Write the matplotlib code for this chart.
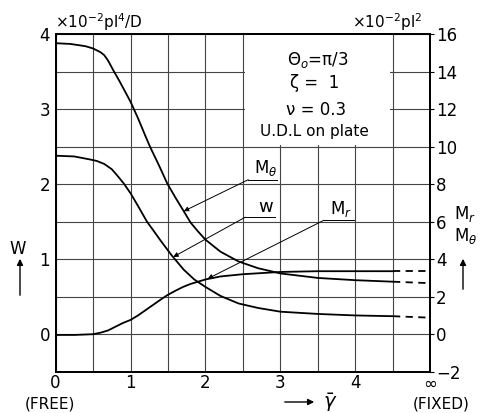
import numpy as np
import matplotlib.pyplot as plt
from matplotlib.patches import Rectangle

gam_w = [0, 0.25, 0.46, 0.55, 0.65, 0.75, 0.82, 0.91, 1.0, 1.1, 1.22, 1.3, 1.4, 1.55, 1.71, 1.85, 2.0,
         2.2, 2.44, 2.7, 3.0, 3.5, 4.0, 4.5]
w_val = [2.38, 2.37, 2.33, 2.31, 2.27, 2.20, 2.12, 2.01, 1.88, 1.71, 1.50, 1.39, 1.25, 1.05, 0.86, 0.73, 0.63,
         0.51, 0.41, 0.35, 0.30, 0.27, 0.25, 0.24]

gam_mt = [0, 0.2, 0.4, 0.5, 0.6, 0.65, 0.7, 0.77, 0.85, 0.92, 1.0, 1.1, 1.2, 1.26, 1.38, 1.49, 1.6, 1.71,
          1.8, 1.9, 2.0, 2.2, 2.44, 2.7, 3.0, 3.5, 4.0, 4.5]
mt_val = [3.88, 3.87, 3.84, 3.81, 3.76, 3.72, 3.65, 3.52, 3.38, 3.25, 3.10, 2.88, 2.64, 2.50, 2.25, 2.01, 1.82, 1.64,
          1.49, 1.37, 1.26, 1.10, 0.97, 0.88, 0.81, 0.75, 0.72, 0.70]

gam_mr = [0, 0.25, 0.5, 0.6, 0.7, 0.8, 0.9, 1.0, 1.1, 1.2, 1.3, 1.4, 1.49, 1.6, 1.7, 1.8, 1.9, 2.0,
          2.2, 2.5, 3.0, 3.5, 4.0, 4.5]
mr_val = [-0.01, -0.01, 0.0, 0.02, 0.05, 0.10, 0.15, 0.19, 0.25, 0.32, 0.39, 0.46, 0.52, 0.58, 0.63, 0.67, 0.70, 0.73,
          0.77, 0.80, 0.83, 0.84, 0.84, 0.84]

# dashed continuation towards infinity (fixed end)
gam_dash = [4.5, 5.0]
w_dash = [0.24, 0.22]
mt_dash = [0.70, 0.68]
mr_dash = [0.84, 0.84]

x_ticks = [0, 1, 2, 3, 4, 5]
x_labels = ["0", "1", "2", "3", "4", "\u221e"]
left_ticks = [0, 1, 2, 3, 4]
right_ticks = list(range(-2, 17, 2))

W, H = 481, 413
fig = plt.figure(figsize=(W / 100, H / 100), dpi=100)
ax = fig.add_axes([55.5 / W, 1 - 371.7 / H, 375 / W, 337.5 / H])

ax.set_xlim(0, 5)
ax.set_ylim(-0.5, 4)
ax.set_xticks(x_ticks, x_labels)
ax.set_xticks(np.arange(0.5, 5, 0.5), minor=True)
ax.set_yticks(left_ticks)
ax.set_yticks(np.arange(-0.5, 4, 0.5), minor=True)
ax.grid(True, which="both", color="#444444", lw=0.8)
ax.tick_params(which="both", length=0, labelsize=12, pad=4)
ax.tick_params(axis="x", pad=2)
for s in ax.spines.values():
    s.set_linewidth(1.3)

# white box behind the parameter text
ax.add_patch(Rectangle((2.53, 2.52), 1.93, 1.47, facecolor="white", edgecolor="none", zorder=1.8))

kw = dict(color="black", lw=1.3, zorder=2)
ax.plot(gam_w, w_val, **kw)
ax.plot(gam_mt, mt_val, **kw)
ax.plot(gam_mr, mr_val, **kw)
for yd in (w_dash, mt_dash, mr_dash):
    ax.plot(gam_dash, yd, color="black", lw=1.3, ls=(0, (4, 3)), zorder=2)

# parameter text
ax.text(3.5, 3.66, "\u0398$_o$=\u03c0/3", ha="center", va="center", fontsize=12, zorder=3)
ax.text(3.45, 3.35, "\u03b6 =  1", ha="center", va="center", fontsize=12, zorder=3)
ax.text(3.47, 2.99, "\u03bd = 0.3", ha="center", va="center", fontsize=12, zorder=3)
ax.text(3.45, 2.70, "U.D.L on plate", ha="center", va="center", fontsize=11, zorder=3)

# curve labels with leaders
arr = dict(arrowstyle="-|>", lw=0.7, color="black", mutation_scale=7, shrinkA=0, shrinkB=0)
ax.text(2.80, 2.08, "M$_\\theta$", ha="center", va="bottom", fontsize=12)
ax.plot([2.57, 2.96], [2.06, 2.06], color="black", lw=0.7)
ax.annotate("", xy=(1.71, 1.64), xytext=(2.57, 2.06), arrowprops=arr)

ax.text(2.80, 1.58, "w", ha="center", va="bottom", fontsize=13)
ax.plot([2.53, 2.93], [1.56, 1.56], color="black", lw=0.7)
ax.annotate("", xy=(1.57, 1.03), xytext=(2.53, 1.56), arrowprops=arr)

ax.text(3.80, 1.54, "M$_r$", ha="center", va="bottom", fontsize=12)
ax.plot([3.58, 3.98], [1.52, 1.52], color="black", lw=0.7)
ax.annotate("", xy=(2.03, 0.74), xytext=(3.58, 1.52), arrowprops=arr)

# right hand scale
ax2 = ax.twinx()
ax2.set_ylim(-2, 16)
ax2.set_yticks(right_ticks)
ax2.tick_params(length=3, width=0.8, labelsize=12, pad=1)
for s in ax2.spines.values():
    s.set_linewidth(1.3)

# axis annotations
fig.text(55 / W, 1 - 33 / H, "\u00d710$^{-2}$pl$^4$/D", fontsize=11, ha="left", va="bottom")
fig.text(352 / W, 1 - 33 / H, "\u00d710$^{-2}$pl$^2$", fontsize=11, ha="left", va="bottom")

farr = dict(arrowstyle="-|>", lw=1.0, color="black", mutation_scale=9)


def fig_arrow(x0, y0, x1, y1):
    # arrow in figure pixels (top-left origin)
    ax2.annotate("", xy=(x1 / W, 1 - y1 / H), xytext=(x0 / W, 1 - y0 / H),
                 xycoords="figure fraction", textcoords="figure fraction",
                 arrowprops=farr, annotation_clip=False)


fig.text(18 / W, 1 - 249 / H, "W", fontsize=12, ha="center", va="center")
fig_arrow(20, 298, 20, 256)

fig.text(465 / W, 1 - 214 / H, "M$_r$", fontsize=12, ha="center", va="center")
fig.text(466 / W, 1 - 236 / H, "M$_\\theta$", fontsize=12, ha="center", va="center")
fig_arrow(463, 292, 463, 256)

fig.text(50 / W, 1 - 404 / H, "(FREE)", fontsize=11, ha="center", va="center")
fig.text(441 / W, 1 - 404 / H, "(FIXED)", fontsize=11, ha="center", va="center")
fig_arrow(282, 402, 317, 402)
fig.text(330 / W, 1 - 403 / H, "$\\bar{\\gamma}$", fontsize=14, ha="center", va="center")

fig.savefig("out.png", dpi=100)
